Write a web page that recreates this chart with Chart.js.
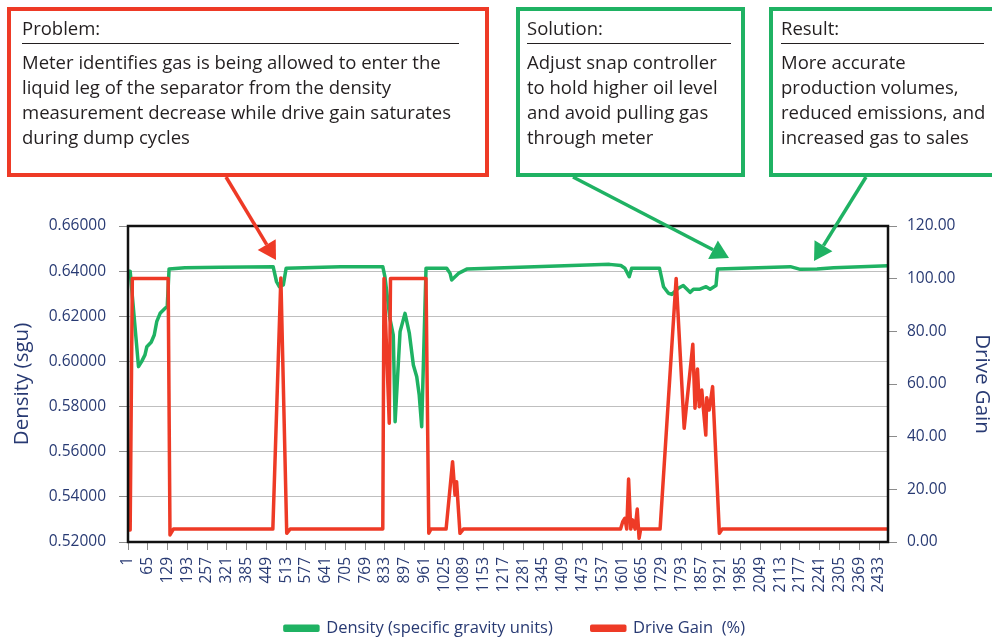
<!DOCTYPE html>
<html>
<head>
<meta charset="utf-8">
<script src="https://cdn.jsdelivr.net/npm/chart.js@4.4.1/dist/chart.umd.min.js"></script>
<style>
  html, body { margin: 0; padding: 0; background: #fff; }
  body { width: 992px; height: 638px; position: relative; overflow: hidden; font-family: "Open Sans", sans-serif; }
  #chart { position: absolute; left: 0; top: 0; }
  .box { position: absolute; top: 7px; height: 170px; border: 4px solid; box-sizing: border-box; }
  .head, .text { position: absolute; font-size: 18.5px; line-height: 25px; color: #231f20; white-space: nowrap; }
  .head { top: 15px; }
  .text { top: 49px; }
  .rule { position: absolute; top: 43px; height: 0; border-top: 1.5px solid #231f20; }
  #arrows { position: absolute; left: 0; top: 0; }
</style>
</head>
<body>
<canvas id="chart" width="992" height="638"></canvas>

<div class="box" style="left:7px;width:482px;border-color:#ee3a26"></div>
<div class="head" style="left:22px">Problem:</div>
<div class="rule" style="left:22px;width:437px"></div>
<div class="text" style="left:22px">Meter identifies gas is being allowed to enter the<br>liquid leg of the separator from the density<br>measurement decrease while drive gain saturates<br>during dump cycles</div>

<div class="box" style="left:516px;width:229px;border-color:#1fb263"></div>
<div class="head" style="left:527px">Solution:</div>
<div class="rule" style="left:527px;width:204px"></div>
<div class="text" style="left:527px">Adjust snap controller<br>to hold higher oil level<br>and avoid pulling gas<br>through meter</div>

<div class="box" style="left:769px;width:240px;border-color:#1fb263"></div>
<div class="head" style="left:781px">Result:</div>
<div class="rule" style="left:781px;width:203px"></div>
<div class="text" style="left:781px">More accurate<br>production volumes,<br>reduced emissions, and<br>increased gas to sales</div>

<svg id="arrows" width="992" height="638"></svg>

<script>
// sample index (x) and values
const xTicks = [1, 65, 129, 193, 257, 321, 385, 449, 513, 577, 641, 705, 769, 833, 897, 961,
  1025, 1089, 1153, 1217, 1281, 1345, 1409, 1473, 1537, 1601, 1665, 1729, 1793, 1857, 1921,
  1985, 2049, 2113, 2177, 2241, 2305, 2369, 2433];

const densityIdx = [1, 8, 35, 45, 56, 62, 76, 86, 94, 105, 123, 128, 134, 185, 300, 471, 482, 491, 504, 513,
  690, 826, 833, 849, 860, 866, 882, 898, 912, 925, 936, 944, 952, 966, 1033, 1044, 1049, 1071, 1098,
  1560, 1597, 1610, 1624, 1632, 1722, 1735, 1751, 1762, 1783, 1799, 1821, 1832, 1853, 1873, 1886, 1905,
  1910, 2146, 2178, 2232, 2286, 2462];
const density = [0.6400, 0.6400, 0.5977, 0.5999, 0.6029, 0.6065, 0.6085, 0.6117, 0.6176, 0.6213, 0.6238, 0.6242,
  0.6410, 0.6415, 0.6417, 0.6420, 0.6353, 0.6331, 0.6339, 0.6413,
  0.6420, 0.6420, 0.6375, 0.6191, 0.6117, 0.5733, 0.6132, 0.6213, 0.6125, 0.5984, 0.5932, 0.5851, 0.5711,
  0.6413, 0.6413, 0.6390, 0.6361, 0.6390, 0.6409,
  0.6430, 0.6425, 0.6413, 0.6375, 0.6413, 0.6413, 0.6331, 0.6302, 0.6297, 0.6324, 0.6336, 0.6306, 0.6320,
  0.6320, 0.6331, 0.6320, 0.6336, 0.6410, 0.6420, 0.6408, 0.6410, 0.6415, 0.6424];

const gainIdx = [1, 8, 15, 131, 137, 148, 470, 496, 515, 526, 826, 830, 847, 851, 966, 975, 982,
  1031, 1052, 1060, 1065, 1076, 1087, 1596, 1603, 1610, 1616, 1622, 1629, 1635, 1643, 1650, 1656, 1661,
  1724, 1776, 1802, 1830, 1837, 1845, 1851, 1859, 1864, 1872, 1875, 1883, 1894, 1916, 1925, 2462];
const driveGain = [4.6, 4.6, 100.1, 100.1, 2.7, 4.9, 4.9, 100.3, 3.3, 4.9, 4.9, 100.1, 45.1, 100.1, 100.1, 3.3, 4.9,
  4.9, 30.5, 17.8, 22.9, 3.3, 4.9, 4.9, 7.7, 9.0, 4.9, 23.9, 4.9, 8.4, 4.9, 12.5, 1.4, 4.9,
  4.9, 100.1, 43.2, 75.1, 50.8, 65.7, 51.4, 57.7, 50.8, 40.6, 54.8, 50.1, 59.0, 3.3, 4.9, 4.9];

const navy = '#283a73';
const green = '#1fb263';
const red = '#ee3a26';
const LEGEND_SHIFT = 19;
const LEGEND_RAISE = 17;

const plotFrame = {
  id: 'plotFrame',
  afterDatasetsDraw(chart) {
    const { ctx, chartArea: a } = chart;
    ctx.save();
    ctx.strokeStyle = '#111';
    ctx.lineWidth = 2.5;
    ctx.strokeRect(a.left, a.top, a.right - a.left, a.bottom - a.top);
    ctx.restore();
  }
};

// nudge the legend so it sits where the original one does
const legendShift = {
  id: 'legendShift',
  afterLayout(chart) {
    chart.legend.left += LEGEND_SHIFT;
    chart.legend.right += LEGEND_SHIFT;
    chart.legend.top -= LEGEND_RAISE;
  }
};

new Chart(document.getElementById('chart'), {
  type: 'line',
  data: {
    datasets: [
      {
        label: 'Density (specific gravity units)',
        data: densityIdx.map((x, i) => ({ x: x, y: density[i] })),
        borderColor: green,
        backgroundColor: green,
        borderWidth: 3.5,
        borderJoinStyle: 'round',
        pointRadius: 0,
        yAxisID: 'y',
        order: 1
      },
      {
        label: 'Drive Gain  (%)',
        data: gainIdx.map((x, i) => ({ x: x, y: driveGain[i] })),
        borderColor: red,
        backgroundColor: red,
        borderWidth: 3.5,
        borderJoinStyle: 'round',
        pointRadius: 0,
        yAxisID: 'y1',
        order: 0
      }
    ]
  },
  options: {
    responsive: false,
    animation: false,
    layout: { padding: { top: 226, left: 0, right: 0, bottom: 0 } },
    plugins: {
      tooltip: { enabled: false },
      legend: {
        position: 'bottom',
        maxHeight: 40,
        labels: {
          boxWidth: 33,
          boxHeight: 4,
          padding: 39,
          color: navy,
          font: { family: 'Open Sans', size: 16.5 },
          sort: (a, b) => a.datasetIndex - b.datasetIndex
        }
      }
    },
    scales: {
      x: {
        type: 'linear',
        min: 1,
        max: 2462,
        afterBuildTicks: (scale) => { scale.ticks = xTicks.map(v => ({ value: v })); },
        afterFit: (scale) => { scale.height = 56; },
        grid: { drawOnChartArea: false, tickLength: 8, tickColor: '#8c8c8c' },
        border: { display: false },
        ticks: {
          autoSkip: false,
          minRotation: 90,
          maxRotation: 90,
          padding: 7,
          color: navy,
          font: { family: 'Open Sans', size: 15.5 },
          callback: (v) => String(v)
        }
      },
      y: {
        position: 'left',
        min: 0.52,
        max: 0.66,
        afterFit: (scale) => { scale.width = 128; },
        grid: { color: '#bfbfbf', tickLength: 9, tickColor: '#8c8c8c' },
        border: { display: false },
        ticks: {
          stepSize: 0.02,
          padding: 13,
          color: navy,
          font: { family: 'Open Sans', size: 15.5 },
          callback: (v) => v.toFixed(5)
        },
        title: {
          display: true,
          text: 'Density (sgu)',
          color: navy,
          font: { family: 'Open Sans', size: 20.5, lineHeight: 1 },
          padding: { top: 12, bottom: 0 }
        }
      },
      y1: {
        position: 'right',
        min: 0,
        max: 120,
        afterFit: (scale) => { scale.width = 104; },
        grid: { drawOnChartArea: false, tickLength: 9, tickColor: '#8c8c8c' },
        border: { display: false },
        ticks: {
          stepSize: 20,
          padding: 10,
          color: navy,
          font: { family: 'Open Sans', size: 15.5 },
          callback: (v) => v.toFixed(2)
        },
        title: {
          display: true,
          text: 'Drive Gain',
          color: navy,
          font: { family: 'Open Sans', size: 20.5, lineHeight: 1 },
          padding: { top: 0, bottom: 0 }
        }
      }
    }
  },
  plugins: [plotFrame, legendShift]
});

// callout arrows: [from, tip, colour]
const arrows = [
  [[226, 177], [276, 260], red],
  [[573, 177], [729, 258], green],
  [[866, 177], [814, 261], green]
];
const svg = document.getElementById('arrows');
let markup = '';
for (const [from, tip, col] of arrows) {
  const dx = tip[0] - from[0], dy = tip[1] - from[1];
  const len = Math.hypot(dx, dy);
  const ux = dx / len, uy = dy / len;
  const bx = tip[0] - 18 * ux, by = tip[1] - 18 * uy;
  const px = -uy * 10.5, py = ux * 10.5;
  markup += `<line x1="${from[0]}" y1="${from[1]}" x2="${bx}" y2="${by}" stroke="${col}" stroke-width="3.5"/>`;
  markup += `<polygon points="${tip[0]},${tip[1]} ${bx + px},${by + py} ${bx - px},${by - py}" fill="${col}"/>`;
}
svg.innerHTML = markup;
</script>
</body>
</html>
